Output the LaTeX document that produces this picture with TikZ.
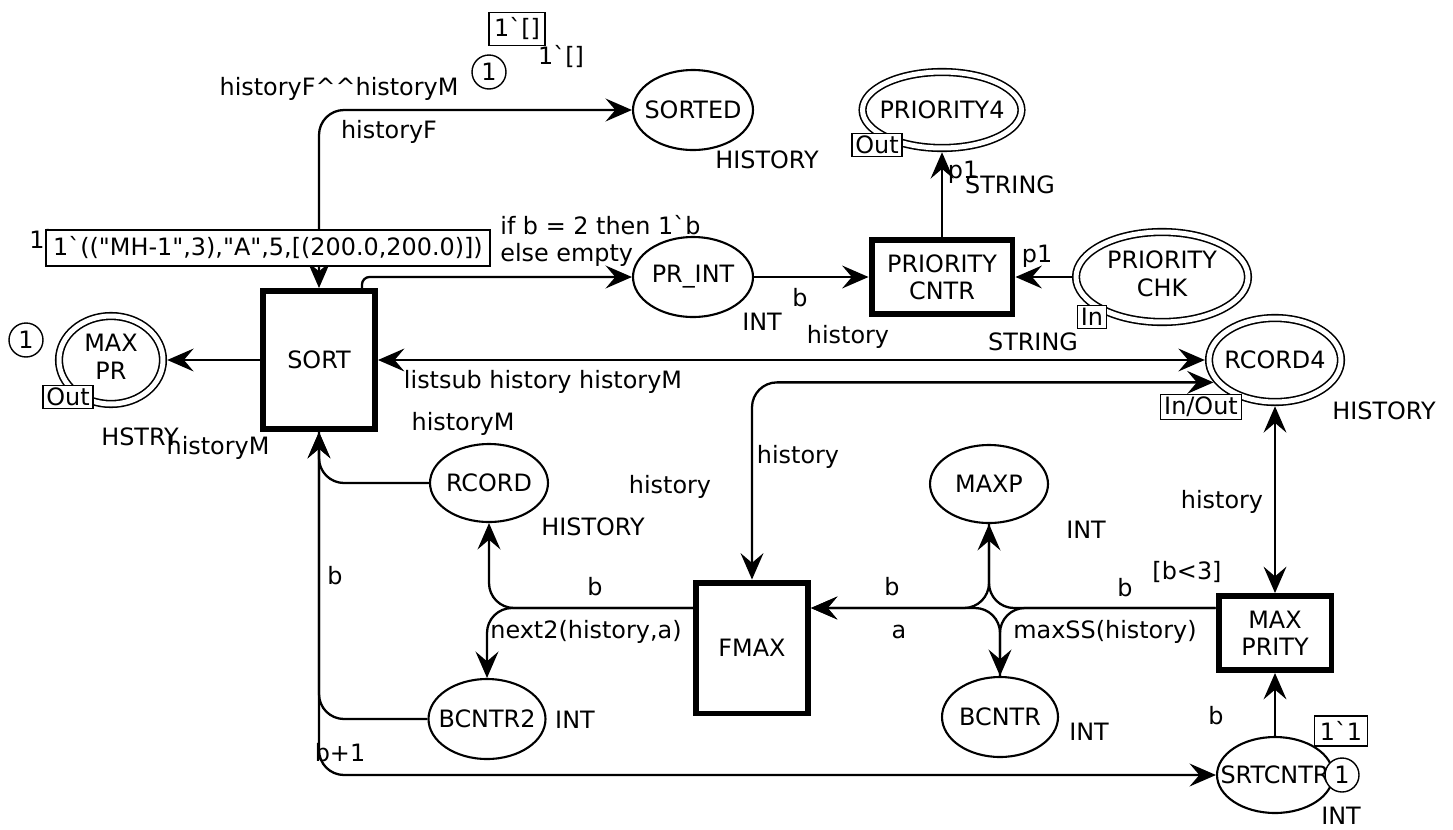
\documentclass[tikz,border=0pt]{standalone}
\usepackage{fontspec}
\newfontfamily\cpnff{DejaVu Sans}
\usetikzlibrary{shapes.geometric,arrows.meta}
\newcommand{\cpnfont}{\cpnff\fontsize{13.6pt}{15.5pt}\selectfont}
\newcommand{\pl}[1]{\makebox[0pt]{#1}}
\newcommand{\pll}[1]{\makebox[0pt]{\begin{tabular}{@{}c@{}}#1\end{tabular}}}

\begin{document}
\begin{tikzpicture}[x=0.02cm,y=-0.02cm,
	every node/.style={font=\cpnfont},
	>={Stealth[length=15pt,width=13pt,inset=5.5pt]},
	place/.style={ellipse,draw,line width=1.2pt,inner sep=0pt},
	port/.style={place,line width=0.9pt,double,double distance=0.1cm,outer sep=0.085cm},
	trans/.style={rectangle,draw,line width=3.4pt,inner sep=0pt,align=center},
	tag/.style={draw,line width=0.8pt,fill=white,inner xsep=2pt,inner ysep=1.5pt},
	marking/.style={tag,inner sep=3pt},
	token/.style={circle,draw,line width=0.8pt,fill=white,inner sep=0pt,minimum size=0.68cm},
	arrowline/.style={line width=1.3pt,rounded corners=0.5cm}]
	\useasboundingbox (0,0) rectangle (1453,829);

	\node[place,minimum width=2.4cm,minimum height=1.6cm] (sorted) at (693,110) {\pl{SORTED}};
	\node[port,minimum width=3.18cm,minimum height=1.52cm] (prio4) at (942,110) {\pl{PRIORITY4}};
	\node[place,minimum width=2.4cm,minimum height=1.6cm] (print) at (693,277) {\pl{PR\_INT}};
	\node[trans,minimum width=2.82cm,minimum height=1.48cm] (pcntr) at (942,277) {PRIORITY\\CNTR};
	\node[port,minimum width=3.44cm,minimum height=1.8cm] (pchk) at (1162,277) {\pll{PRIORITY\\CHK}};
	\node[port,minimum width=2.64cm,minimum height=1.68cm] (rcord4) at (1275,360) {\pl{RCORD4}};
	\node[port,minimum width=2.08cm,minimum height=1.76cm] (maxpr) at (111,360) {\pll{MAX\\PR}};
	\node[trans,minimum width=2.24cm,minimum height=2.76cm] (sort) at (319,360) {SORT};
	\node[place,minimum width=2.36cm,minimum height=1.56cm] (rcord) at (489,483) {\pl{RCORD}};
	\node[place,minimum width=2.34cm,minimum height=1.6cm] (bcntr2) at (487,719) {\pl{BCNTR2}};
	\node[trans,minimum width=2.24cm,minimum height=2.62cm] (fmax) at (752,648) {FMAX};
	\node[place,minimum width=2.36cm,minimum height=1.56cm] (maxp) at (989,484) {\pl{MAXP}};
	\node[place,minimum width=2.32cm,minimum height=1.6cm] (bcntr) at (1000,717) {\pl{BCNTR}};
	\node[trans,minimum width=2.26cm,minimum height=1.48cm] (maxprity) at (1275,633) {MAX\\PRITY};
	\node[place,minimum width=2.32cm,minimum height=1.52cm] (srtcntr) at (1275,775) {\pl{SRTCNTR}};

	\draw[arrowline,<->] (sort.north) |- (sorted.west);
	\draw[arrowline,->,rounded corners=0.15cm] ([xshift=0.86cm]sort.north) |- (print.west);
	\draw[arrowline,->] (print) -- (pcntr);
	\draw[arrowline,->] (pcntr) -- (prio4);
	\draw[arrowline,->] (pchk) -- (pcntr);
	\draw[arrowline,<->] (sort) -- (rcord4);
	\draw[arrowline,<->] (fmax.north) |- (rcord4.200);
	\draw[arrowline,<->] (rcord4) -- (maxprity);
	\draw[arrowline,->] (srtcntr) -- (maxprity);
	\draw[arrowline,->] (sort) -- (maxpr);
	\draw[arrowline,->] (rcord) -| (sort.south);
	\draw[arrowline,->] (bcntr2) -| (sort.south);
	\draw[arrowline,->] (sort.south) |- (srtcntr);
	\draw[arrowline,->] ([yshift=0.8cm]fmax.west) -| (rcord);
	\draw[arrowline,->] ([yshift=0.8cm]fmax.west) -| (bcntr2);
	\draw[arrowline,->] ([yshift=0.5cm]maxprity.west) -| (maxp);
	\draw[arrowline,->] ([yshift=0.5cm]maxprity.west) -| (bcntr);
	\draw[arrowline,->] (maxp) |- ([yshift=0.8cm]fmax.east);
	\draw[arrowline,->] (bcntr) |- ([yshift=0.8cm]fmax.east);

	\node[tag] (prio4tag) at (877,145) {Out};
	\node[tag] (pchktag) at (1092,317) {In};
	\node[tag] (rcord4tag) at (1201,407) {In/Out};
	\node[tag] (maxprtag) at (68,397) {Out};
	\node[token] (maxprtok) at (26,340) {1};
	\node[marking] (sortedmark) at (517,29) {1`[]};
	\node[token] (sortedtok) at (489,72) {1};
	\node (sortedinit) at (561,57) {1`[]};
	\node[marking] (srtmark) at (1341,731) {1`1};
	\node[token] (srttok) at (1342,775) {1};
	\node[anchor=base west,inner sep=0pt] (sortinit) at (29,248) {1`(("MH-1",3),"A",5,[(200.0,200.0)])};
	\node[marking,inner xsep=4pt,inner ysep=4pt] (sortmark) at (268,248) {1`(("MH-1",3),"A",5,[(200.0,200.0)])};

	\node (sortedty) at (767,160) {HISTORY};
	\node (prio4ty) at (1010,185) {STRING};
	\node (printty) at (762,322) {INT};
	\node (pchkty) at (1033,342) {STRING};
	\node (rcord4ty) at (1384,411) {HISTORY};
	\node (maxprty) at (140,437) {HSTRY};
	\node (rcordty) at (593,527) {HISTORY};
	\node (maxpty) at (1086,530) {INT};
	\node (bcntr2ty) at (575,720) {INT};
	\node (bcntrty) at (1089,732) {INT};
	\node (srtcntrty) at (1341,816) {INT};
	\node (prityguard) at (1187,572) {[b<3]};

	\node (sortedout) at (339,89) {historyF\symbol{94}\symbol{94}historyM};
	\node (sortedin) at (389,132) {historyF};
	\node (p4out) at (963,172) {p1};
	\node[anchor=west,align=left,inner sep=0pt] (printin) at (500,241) {if b = 2 then 1`b\\else empty};
	\node (pcntrin) at (800,298) {b};
	\node (pchkout) at (1037,256) {p1};
	\node (rcord4in) at (848,337) {history};
	\node (rcord4out) at (543,382) {listsub history historyM};
	\node (maxprin) at (218,448) {historyM};
	\node (rcordout) at (463,424) {historyM};
	\node (fmaxout) at (670,487) {history};
	\node (fmaxin) at (798,457) {history};
	\node (prityin) at (1222,502) {history};
	\node (maxpin) at (1125,588) {b};
	\node (rcordin) at (595,587) {b};
	\node (maxpout) at (892,587) {b};
	\node (bcntr2in) at (586,632) {next2(history,a)};
	\node (bcntrout) at (899,632) {a};
	\node (bcntrin) at (1105,632) {maxSS(history)};
	\node (bcntr2out) at (335,576) {b};
	\node (srtout) at (1216,716) {b};
	\node (srtin) at (340,753) {b+1};
\end{tikzpicture}
\end{document}
